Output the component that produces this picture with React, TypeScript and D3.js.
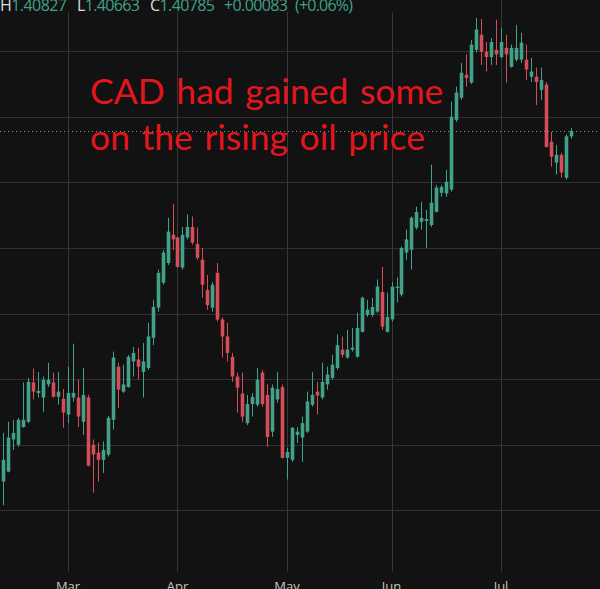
import React, { useEffect, useRef } from 'react';
import * as d3 from 'd3';

// daily candles, mid Feb -> late Jul
const opens = [
  1.3544, 1.3559, 1.3608, 1.3600, 1.3627, 1.3635, 1.3695, 1.3679, 1.3672, 1.3692,
  1.3695, 1.3673, 1.3670, 1.3646, 1.3672, 1.3672, 1.3635, 1.3672, 1.3600, 1.3588,
  1.3577, 1.3585, 1.3638, 1.3719, 1.3681, 1.3688, 1.3727, 1.3730, 1.3711, 1.3717,
  1.3763, 1.3809, 1.3847, 1.3877, 1.3920, 1.3916, 1.3870, 1.3916, 1.3932, 1.3906,
  1.3882, 1.3836, 1.3809, 1.3862, 1.3791, 1.3765, 1.3734, 1.3704, 1.3678, 1.3633,
  1.3662, 1.3661, 1.3710, 1.3676, 1.3620, 1.3669, 1.3688, 1.3580, 1.3577, 1.3615,
  1.3611, 1.3620, 1.3661, 1.3681, 1.3672, 1.3692, 1.3702, 1.3717, 1.3745, 1.3733,
  1.3745, 1.3734, 1.3772, 1.3798, 1.3798, 1.3803, 1.3833, 1.3772, 1.3791, 1.3839,
  1.3829, 1.3893, 1.3897, 1.3931, 1.3940, 1.3941, 1.3935, 1.3955, 1.3984, 1.3983,
  1.3989, 1.4095, 1.4129, 1.4164, 1.4152, 1.4202, 1.4225, 1.4199, 1.4191, 1.4202,
  1.4191, 1.4205, 1.4176, 1.4187, 1.4187, 1.4187, 1.4161, 1.4161, 1.4141, 1.4149,
  1.4062, 1.4030, 1.4042, 1.4007, 1.4070,
];
const highs = [
  1.3618, 1.3635, 1.3638, 1.3641, 1.3695, 1.3702, 1.3716, 1.3711, 1.3704, 1.3725,
  1.3710, 1.3711, 1.3685, 1.3719, 1.3754, 1.3699, 1.3717, 1.3676, 1.3608, 1.3603,
  1.3605, 1.3644, 1.3742, 1.3725, 1.3722, 1.3737, 1.3749, 1.3748, 1.3755, 1.3786,
  1.3821, 1.3867, 1.3897, 1.3946, 1.3967, 1.3917, 1.3932, 1.3951, 1.3948, 1.3931,
  1.3900, 1.3859, 1.3848, 1.3877, 1.3794, 1.3786, 1.3740, 1.3710, 1.3710, 1.3676,
  1.3679, 1.3717, 1.3714, 1.3692, 1.3692, 1.3711, 1.3692, 1.3595, 1.3627, 1.3627,
  1.3643, 1.3681, 1.3711, 1.3696, 1.3725, 1.3719, 1.3737, 1.3768, 1.3765, 1.3775,
  1.3778, 1.3801, 1.3826, 1.3821, 1.3824, 1.3852, 1.3871, 1.3832, 1.3848, 1.3855,
  1.3902, 1.3928, 1.3948, 1.3963, 1.3970, 1.3958, 1.4027, 1.3996, 1.3996, 1.4019,
  1.4123, 1.4146, 1.4182, 1.4195, 1.4217, 1.4251, 1.4249, 1.4214, 1.4220, 1.4248,
  1.4236, 1.4225, 1.4210, 1.4240, 1.4228, 1.4210, 1.4190, 1.4175, 1.4175, 1.4153,
  1.4077, 1.4057, 1.4045, 1.4073, 1.40827,
];
const lows = [
  1.3508, 1.3558, 1.3592, 1.3597, 1.3626, 1.3633, 1.3669, 1.3672, 1.3650, 1.3688,
  1.3672, 1.3661, 1.3626, 1.3633, 1.3666, 1.3627, 1.3615, 1.3567, 1.3527, 1.3544,
  1.3557, 1.3582, 1.3623, 1.3656, 1.3679, 1.3687, 1.3704, 1.3699, 1.3672, 1.3714,
  1.3752, 1.3803, 1.3844, 1.3874, 1.3897, 1.3870, 1.3867, 1.3913, 1.3905, 1.3882,
  1.3824, 1.3806, 1.3803, 1.3788, 1.3733, 1.3727, 1.3696, 1.3649, 1.3635, 1.3630,
  1.3643, 1.3658, 1.3658, 1.3597, 1.3612, 1.3664, 1.3579, 1.3547, 1.3574, 1.3603,
  1.3574, 1.3618, 1.3658, 1.3646, 1.3669, 1.3684, 1.3699, 1.3714, 1.3733, 1.3731,
  1.3742, 1.3733, 1.3771, 1.3795, 1.3795, 1.3801, 1.3775, 1.3771, 1.3788, 1.3817,
  1.3826, 1.3882, 1.3867, 1.3928, 1.3928, 1.3900, 1.3932, 1.3954, 1.3978, 1.3978,
  1.3986, 1.4092, 1.4126, 1.4146, 1.4150, 1.4198, 1.4179, 1.4169, 1.4179, 1.4179,
  1.4189, 1.4152, 1.4175, 1.4184, 1.4182, 1.4156, 1.4153, 1.4118, 1.4126, 1.4053,
  1.4024, 1.4012, 1.4007, 1.4004, 1.40663,
];
const closes = [
  1.3577, 1.3611, 1.3618, 1.3638, 1.3638, 1.3696, 1.3681, 1.3682, 1.3699, 1.3699,
  1.3673, 1.3681, 1.3649, 1.3679, 1.3679, 1.3643, 1.3676, 1.3568, 1.3585, 1.3577,
  1.3592, 1.3641, 1.3733, 1.3684, 1.3692, 1.3734, 1.3740, 1.3719, 1.3727, 1.3765,
  1.3810, 1.3862, 1.3893, 1.3925, 1.3913, 1.3871, 1.3920, 1.3932, 1.3908, 1.3885,
  1.3844, 1.3813, 1.3844, 1.3791, 1.3765, 1.3740, 1.3704, 1.3687, 1.3643, 1.3662,
  1.3673, 1.3699, 1.3662, 1.3612, 1.3687, 1.3685, 1.3580, 1.3589, 1.3626, 1.3620,
  1.3633, 1.3666, 1.3676, 1.3675, 1.3696, 1.3707, 1.3722, 1.3752, 1.3737, 1.3745,
  1.3748, 1.3778, 1.3824, 1.3806, 1.3810, 1.3841, 1.3780, 1.3795, 1.3841, 1.3841,
  1.3900, 1.3913, 1.3946, 1.3955, 1.3946, 1.3944, 1.3969, 1.3992, 1.3993, 1.4001,
  1.4100, 1.4137, 1.4167, 1.4159, 1.4210, 1.4233, 1.4199, 1.4191, 1.4214, 1.4195,
  1.4214, 1.4195, 1.4205, 1.4205, 1.4213, 1.4172, 1.4169, 1.4153, 1.4156, 1.4054,
  1.4039, 1.4042, 1.4015, 1.40702, 1.40785,
];

// first trading day of each month (candle index)
const monthLabels = ['Mar', 'Apr', 'May', 'Jun', 'Jul'];
const monthStarts = [13, 35, 57, 78, 100];

const noteLines = ['CAD had gained some', 'on the rising oil price'];

const W = 600;
const H = 589;
const plotBottom = 572;
const bg = '#121212';
const upColor = '#41a189';
const downColor = '#d44d58';

const App = () => {
  const ref = useRef(null);

  useEffect(() => {
    const svg = d3.select(ref.current);
    svg.selectAll('*').remove();

    const n = closes.length;
    const x = d3.scaleBand()
      .domain(d3.range(n))
      .range([0.8, 573.2])
      .paddingInner(0.28)
      .paddingOuter(0.14);
    const cx = i => x(i) + x.bandwidth() / 2;

    const y = d3.scaleLinear()
      .domain([1.3406, 1.4278])
      .range([plotBottom, 0]);

    svg.append('rect').attr('width', W).attr('height', H).attr('fill', bg);

    // grid
    const grid = svg.append('g').attr('stroke', '#303030').attr('stroke-width', 1);
    grid.selectAll('line.h')
      .data(y.ticks(8))
      .enter()
      .append('line')
      .attr('x1', 0).attr('x2', W)
      .attr('y1', d => Math.round(y(d)) + 0.5)
      .attr('y2', d => Math.round(y(d)) + 0.5);
    grid.selectAll('line.v')
      .data(monthStarts)
      .enter()
      .append('line')
      .attr('stroke', '#383838')
      .attr('x1', d => Math.round(cx(d)) + 0.5)
      .attr('x2', d => Math.round(cx(d)) + 0.5)
      .attr('y1', 0).attr('y2', plotBottom);

    // last price line
    const last = n - 1;
    svg.append('line')
      .attr('x1', 0).attr('x2', W)
      .attr('y1', Math.round(y(closes[last])) + 0.5)
      .attr('y2', Math.round(y(closes[last])) + 0.5)
      .attr('stroke', '#8c8c8c')
      .attr('stroke-dasharray', '1 3');

    // candles
    const candles = svg.append('g')
      .selectAll('g')
      .data(d3.range(n))
      .enter()
      .append('g')
      .attr('fill', i => closes[i] >= opens[i] ? upColor : downColor)
      .attr('stroke', i => closes[i] >= opens[i] ? upColor : downColor);

    candles.append('line')
      .attr('x1', i => Math.round(cx(i)) + 0.5)
      .attr('x2', i => Math.round(cx(i)) + 0.5)
      .attr('y1', i => y(highs[i]))
      .attr('y2', i => y(lows[i]))
      .attr('stroke-width', 1);

    candles.append('rect')
      .attr('stroke', 'none')
      .attr('x', i => Math.round(cx(i)) + 0.5 - x.bandwidth() / 2)
      .attr('width', x.bandwidth())
      .attr('y', i => y(Math.max(opens[i], closes[i])))
      .attr('height', i => Math.max(1, Math.abs(y(opens[i]) - y(closes[i]))));

    // month labels
    svg.append('g')
      .selectAll('text')
      .data(monthStarts)
      .enter()
      .append('text')
      .attr('x', d => cx(d))
      .attr('y', 591)
      .attr('text-anchor', 'middle')
      .attr('fill', '#c4c4c4')
      .style('font-family', '"Open Sans", sans-serif')
      .style('font-size', '13px')
      .text((d, i) => monthLabels[i]);

    // legend row (covers grid like the original)
    svg.append('rect').attr('x', 0).attr('y', 0).attr('width', 395).attr('height', 12).attr('fill', bg);
    const change = closes[last] - closes[last - 1];
    const pct = change / closes[last - 1] * 100;
    const sign = change >= 0 ? '+' : '-';
    const legend = [
      { x: 0, w: 67, label: 'H', value: highs[last].toFixed(5) },
      { x: 77, w: 63, label: 'L', value: lows[last].toFixed(5) },
      { x: 150, w: 65, label: 'C', value: closes[last].toFixed(5) },
      { x: 224, w: 64, label: '', value: `${sign}${Math.abs(change).toFixed(5)}` },
      { x: 295, w: 58, label: '', value: `(${sign}${Math.abs(pct).toFixed(2)}%)` },
    ];
    const lg = svg.append('g')
      .style('font-family', '"Open Sans", sans-serif')
      .style('font-size', '16px');
    legend.forEach(p => {
      const t = lg.append('text')
        .attr('x', p.x)
        .attr('y', 10.5)
        .attr('textLength', p.w)
        .attr('lengthAdjust', 'spacing');
      if (p.label) t.append('tspan').attr('fill', '#dcdcdc').text(p.label);
      t.append('tspan').attr('fill', upColor).text(p.value);
    });

    // annotation
    svg.append('g')
      .selectAll('text')
      .data(noteLines)
      .enter()
      .append('text')
      .attr('x', 90)
      .attr('y', (d, i) => 104 + i * 46)
      .attr('fill', '#e3161e')
      .style('font-family', 'Lato, sans-serif')
      .style('font-size', '35.5px')
      .style('word-spacing', '2.5px')
      .text(d => d);
  }, []);

  return (
    <>
      <style>{`body{margin:0;background:${bg};}`}</style>
      <svg ref={ref} width={W} height={H} style={{ display: 'block' }}></svg>
    </>
  );
};

export default App;
